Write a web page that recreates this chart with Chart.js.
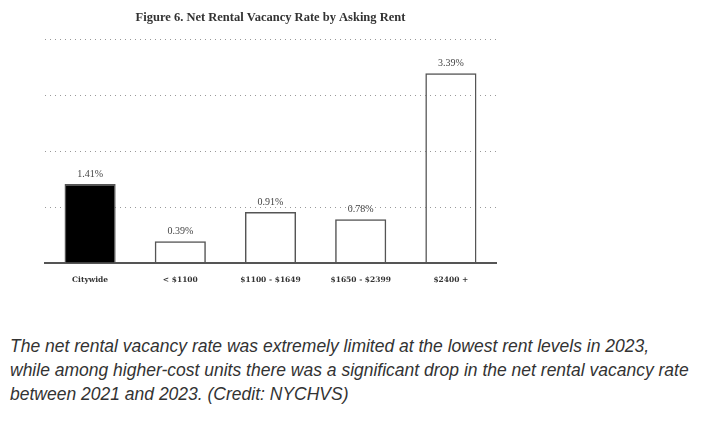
<!DOCTYPE html>
<html>
<head>
<meta charset="utf-8">
<script src="https://cdn.jsdelivr.net/npm/chart.js@4.4.1/dist/chart.umd.min.js"></script>
<style>
    html, body { margin: 0; padding: 0; background: #fff; }
    #wrap { position: relative; width: 701px; height: 300px; }
    #caption {
        margin: 34px 0 0 10px;
        font-family: "Liberation Sans", Arial, sans-serif;
        font-style: italic;
        font-size: 17.5px;
        line-height: 24px;
        color: #333;
        white-space: nowrap;
    }
</style>
</head>
<body>
<div id="wrap"><canvas id="vacancyChart"></canvas></div>
<div id="caption">The net rental vacancy rate was extremely limited at the lowest rent levels in 2023,<br>while among higher-cost units there was a significant drop in the net rental vacancy rate<br>between 2021 and 2023. (Credit: NYCHVS)</div>
<script>
// Chart data
const categories = ['Citywide', '< $1100', '$1100 - $1649', '$1650 - $2399', '$2400 +'];
const vacancyRates = [1.41, 0.39, 0.91, 0.78, 3.39];
const yTicks = [0, 1, 2, 3, 4];

// Draw the % labels above each bar
const valueLabels = {
    id: 'valueLabels',
    afterDatasetsDraw(chart) {
        const ctx = chart.ctx;
        const meta = chart.getDatasetMeta(0);
        ctx.save();
        ctx.font = '10px "Liberation Serif", serif';
        ctx.fillStyle = '#444';
        ctx.textAlign = 'center';
        ctx.textBaseline = 'middle';
        meta.data.forEach(function(bar, i) {
            ctx.fillText(vacancyRates[i].toFixed(2) + '%', bar.x, bar.y - 10);
        });
        ctx.restore();
    }
};

const ctx = document.getElementById('vacancyChart').getContext('2d');
new Chart(ctx, {
    type: 'bar',
    data: {
        labels: categories,
        datasets: [{
            data: vacancyRates,
            backgroundColor: vacancyRates.map((v, i) => i === 0 ? '#000' : 'rgba(255,255,255,0)'),
            borderColor: '#555',
            borderWidth: 1.5,
            categoryPercentage: 1,
            barPercentage: 0.567
        }]
    },
    options: {
        responsive: true,
        maintainAspectRatio: false,
        animation: false,
        layout: { padding: { left: 45, right: 205, top: 0, bottom: 10 } },
        plugins: {
            legend: { display: false },
            tooltip: { enabled: false },
            title: {
                display: true,
                text: 'Figure 6. Net Rental Vacancy Rate by Asking Rent',
                color: '#333',
                font: { family: '"Liberation Serif", serif', size: 12.5, weight: 'bold' },
                padding: { top: 10, bottom: 14 }
            }
        },
        scales: {
            x: {
                grid: { display: false },
                border: { display: true, color: '#555', width: 2 },
                ticks: {
                    color: '#333',
                    font: { family: '"DejaVu Serif", serif', size: 7.5, weight: 'bold' },
                    padding: 5,
                    maxRotation: 0
                }
            },
            y: {
                min: 0,
                max: 4,
                afterBuildTicks: function(scale) {
                    scale.ticks = yTicks.map(v => ({ value: v }));
                },
                ticks: { display: false },
                border: { display: false, dash: [1, 4] },
                grid: { color: '#999', lineWidth: 1, tickLength: 0, drawTicks: false }
            }
        }
    },
    plugins: [valueLabels]
});
</script>
</body>
</html>
